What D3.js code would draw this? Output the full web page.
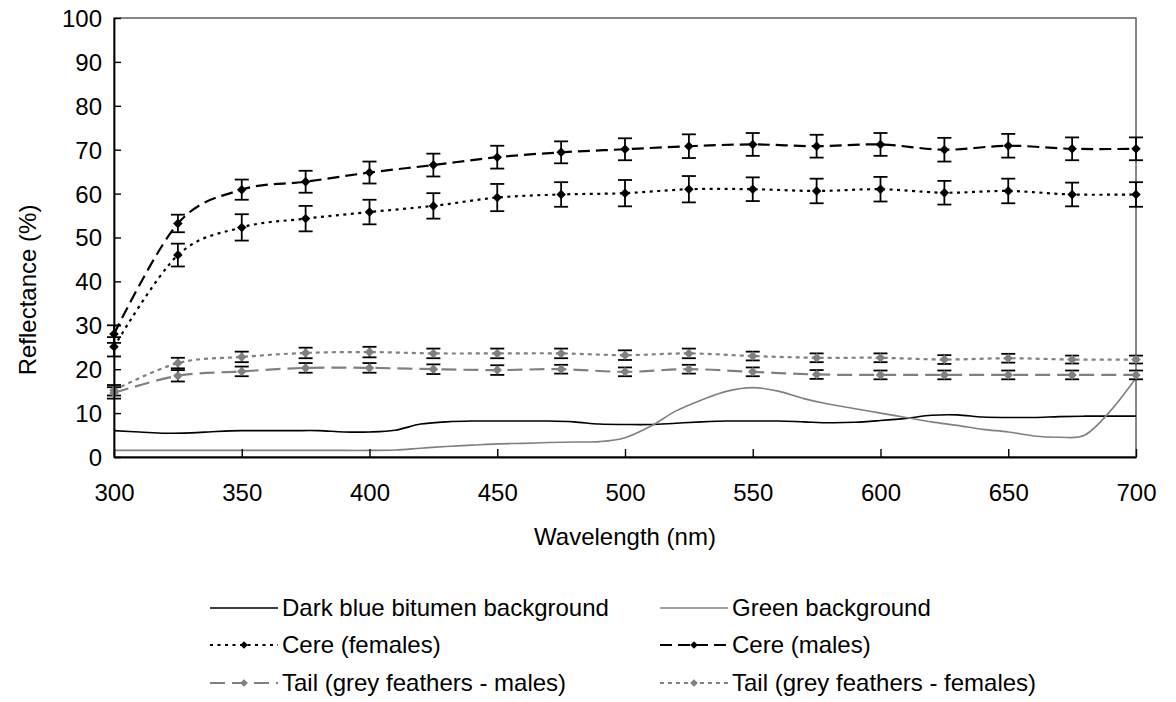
<!DOCTYPE html>
<html>
<head>
<meta charset="utf-8">
<script src="https://cdn.jsdelivr.net/npm/d3@7/dist/d3.min.js"></script>
<style>
  html, body { margin: 0; padding: 0; background: #fff; }
  svg { display: block; font-family: "Liberation Sans", Arial, sans-serif; }
</style>
</head>
<body>
<svg id="chart" width="1176" height="702"></svg>
<script>
// Reflectance spectra, wavelength in nm, reflectance in %
const markerWavelengths = [300, 325, 350, 375, 400, 425, 450, 475, 500, 525, 550, 575, 600, 625, 650, 675, 700];

const cereMales      = [28.0, 53.2, 60.9, 62.7, 64.8, 66.5, 68.3, 69.4, 70.1, 70.8, 71.2, 70.8, 71.2, 70.0, 70.9, 70.2, 70.2];
const cereMalesErr   = [2.0, 2.0, 2.3, 2.5, 2.5, 2.6, 2.6, 2.5, 2.5, 2.7, 2.6, 2.6, 2.6, 2.7, 2.7, 2.6, 2.6];
const cereFemales    = [25.1, 46.0, 52.3, 54.3, 55.8, 57.2, 59.1, 59.8, 60.1, 61.0, 61.0, 60.6, 61.0, 60.2, 60.6, 59.8, 59.8];
const cereFemalesErr = [2.2, 2.6, 3.0, 2.9, 2.8, 2.9, 3.1, 2.8, 3.0, 3.0, 2.7, 2.8, 2.8, 2.7, 2.8, 2.7, 2.8];
const tailFemales    = [15.2, 21.4, 22.8, 23.7, 23.9, 23.6, 23.6, 23.6, 23.2, 23.6, 23.0, 22.6, 22.6, 22.2, 22.5, 22.2, 22.2];
const tailFemalesErr = [1.2, 1.2, 1.2, 1.2, 1.2, 1.1, 1.1, 1.1, 1.1, 1.1, 1.0, 1.0, 1.0, 1.0, 1.0, 0.9, 0.9];
const tailMales      = [14.6, 18.5, 19.5, 20.3, 20.3, 20.0, 19.8, 20.0, 19.4, 20.0, 19.4, 18.8, 18.7, 18.7, 18.7, 18.7, 18.7];
const tailMalesErr   = [1.3, 1.3, 1.1, 1.1, 1.1, 1.1, 1.1, 1.0, 1.0, 1.0, 1.0, 1.0, 1.0, 1.0, 1.0, 1.0, 1.0];

const backgroundWavelengths = [300, 310, 320, 330, 340, 350, 360, 370, 380, 390, 400, 410, 420, 430, 440, 450, 460, 470, 480, 490,
                               500, 510, 520, 530, 540, 550, 560, 570, 580, 590, 600, 610, 620, 630, 640, 650, 660, 670, 680, 690, 700];
const darkBlueBitumen = [6.0, 5.7, 5.4, 5.5, 5.8, 6.0, 6.0, 6.0, 6.0, 5.7, 5.7, 6.1, 7.5, 8.0, 8.2, 8.2, 8.2, 8.2, 8.0, 7.5,
                         7.4, 7.4, 7.7, 8.0, 8.2, 8.2, 8.2, 8.0, 7.8, 7.9, 8.3, 8.8, 9.5, 9.6, 9.1, 9.0, 9.0, 9.2, 9.3, 9.3, 9.3];
const greenBackground = [1.5, 1.5, 1.5, 1.5, 1.5, 1.5, 1.5, 1.5, 1.5, 1.5, 1.5, 1.6, 2.0, 2.4, 2.7, 3.0, 3.1, 3.3, 3.4, 3.5,
                         4.4, 7.0, 10.5, 13.0, 15.0, 15.8, 15.0, 13.3, 12.0, 11.0, 10.0, 9.0, 8.0, 7.2, 6.3, 5.7, 4.8, 4.5, 5.0, 10.5, 18.0];

const xTicks = [300, 350, 400, 450, 500, 550, 600, 650, 700];
const yTicks = [0, 10, 20, 30, 40, 50, 60, 70, 80, 90, 100];

const GREY = "#808080";
const FONT = 24;

const svg = d3.select("#chart");
const x = d3.scaleLinear().domain([300, 700]).range([114, 1136]);
const y = d3.scaleLinear().domain([0, 100]).range([457, 18]);

// plot area border
svg.append("rect")
  .attr("x", x(300)).attr("y", y(100))
  .attr("width", x(700) - x(300)).attr("height", y(0) - y(100))
  .attr("fill", "none").attr("stroke", "#606060").attr("stroke-width", 1.5);

// diamond marker
const diamond = {
  draw(ctx, size) {
    const r = Math.sqrt(size / 2);
    ctx.moveTo(0, -r); ctx.lineTo(r, 0); ctx.lineTo(0, r); ctx.lineTo(-r, 0); ctx.closePath();
  }
};

const series = [
  { name: "Dark blue bitumen background", xs: backgroundWavelengths, ys: darkBlueBitumen, color: "#000", dash: null, width: 1.6 },
  { name: "Green background", xs: backgroundWavelengths, ys: greenBackground, color: GREY, dash: null, width: 1.6 },
  { name: "Cere (females)", xs: markerWavelengths, ys: cereFemales, err: cereFemalesErr, color: "#000", dash: "3,4.5", width: 2.2, marker: true },
  { name: "Cere (males)", xs: markerWavelengths, ys: cereMales, err: cereMalesErr, color: "#000", dash: "12,6", width: 2.2, marker: true },
  { name: "Tail (grey feathers - males)", xs: markerWavelengths, ys: tailMales, err: tailMalesErr, color: GREY, dash: "15,7", width: 2.2, marker: true },
  { name: "Tail (grey feathers - females)", xs: markerWavelengths, ys: tailFemales, err: tailFemalesErr, color: GREY, dash: "4,4", width: 2.2, marker: true }
];

const line = d3.line()
  .x(d => x(d[0])).y(d => y(d[1]))
  .curve(d3.curveCatmullRom.alpha(0));

const plot = svg.append("g");

series.forEach(s => {
  const pts = s.xs.map((w, i) => [w, s.ys[i]]);
  plot.append("path")
    .datum(pts)
    .attr("d", line)
    .attr("fill", "none")
    .attr("stroke", s.color)
    .attr("stroke-width", s.width)
    .attr("stroke-dasharray", s.dash);
});

// error bars
series.filter(s => s.err).forEach(s => {
  const g = plot.append("g").attr("stroke", "#000").attr("stroke-width", 1.8).attr("fill", "none");
  s.xs.forEach((w, i) => {
    const cx = x(w), lo = y(s.ys[i] - s.err[i]), hi = y(s.ys[i] + s.err[i]);
    g.append("line").attr("x1", cx).attr("x2", cx).attr("y1", lo).attr("y2", hi);
    g.append("line").attr("x1", cx - 7).attr("x2", cx + 7).attr("y1", lo).attr("y2", lo);
    g.append("line").attr("x1", cx - 7).attr("x2", cx + 7).attr("y1", hi).attr("y2", hi);
  });
});

// markers
series.filter(s => s.marker).forEach(s => {
  plot.append("g").selectAll("path")
    .data(s.xs.map((w, i) => [w, s.ys[i]]))
    .join("path")
    .attr("transform", d => `translate(${x(d[0])},${y(d[1])})`)
    .attr("d", d3.symbol(diamond, 45))
    .attr("fill", s.color);
});

// axes
const yAxis = svg.append("g")
  .attr("transform", `translate(${x(300)},0)`)
  .call(d3.axisLeft(y).tickValues(yTicks).tickSizeInner(-7).tickSizeOuter(0).tickPadding(12));
const xAxis = svg.append("g")
  .attr("transform", `translate(0,${y(0)})`)
  .call(d3.axisBottom(x).tickValues(xTicks).tickSizeInner(-8).tickSizeOuter(0).tickPadding(30));

[yAxis, xAxis].forEach(a => {
  a.select(".domain").attr("stroke", "#000").attr("stroke-width", 1.8);
  a.selectAll(".tick line").attr("stroke", "#000").attr("stroke-width", 1.4);
  a.selectAll(".tick text").attr("font-size", FONT).attr("fill", "#000").attr("font-family", "Liberation Sans, Arial, sans-serif");
});
yAxis.selectAll(".tick text").attr("dy", "0.35em");
xAxis.selectAll(".tick text").attr("dy", "0.6em");

// axis titles
svg.append("text")
  .attr("x", (x(300) + x(700)) / 2).attr("y", 545)
  .attr("text-anchor", "middle").attr("font-size", FONT)
  .text("Wavelength (nm)");
svg.append("text")
  .attr("transform", "translate(36,290) rotate(-90)")
  .attr("text-anchor", "middle").attr("font-size", FONT)
  .text("Reflectance (%)");

// legend
const legendCols = [210, 660];
const legendRows = [608, 645, 683];
const sampleLen = 68;
series.forEach((s, i) => {
  const lx = legendCols[i % 2], ly = legendRows[Math.floor(i / 2)];
  const g = svg.append("g").attr("transform", `translate(${lx},${ly})`);
  g.append("line").attr("x1", 0).attr("x2", sampleLen).attr("y1", 0).attr("y2", 0)
    .attr("stroke", s.color).attr("stroke-width", s.width).attr("stroke-dasharray", s.dash);
  if (s.marker) {
    g.append("path").attr("transform", `translate(${sampleLen / 2},0)`)
      .attr("d", d3.symbol(diamond, 30)).attr("fill", s.color);
  }
  g.append("text").attr("x", sampleLen + 4).attr("y", 0).attr("dy", "0.35em")
    .attr("font-size", FONT).text(s.name);
});
</script>
</body>
</html>
